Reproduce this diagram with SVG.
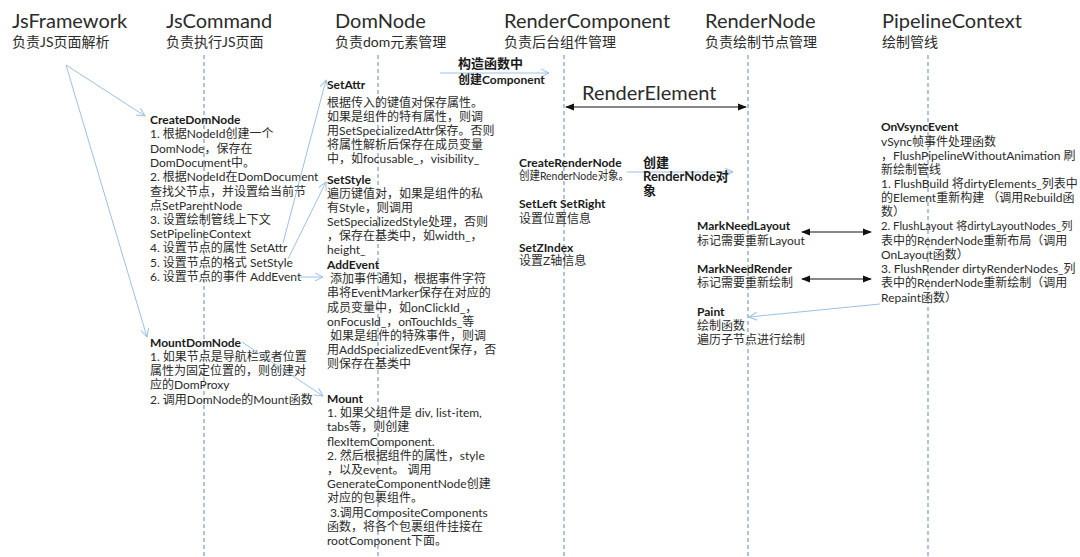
<svg xmlns="http://www.w3.org/2000/svg" width="1080" height="557" viewBox="0 0 1080 557">
<style>
text{font-family:Lato,"Noto Sans CJK SC",sans-serif;fill:#2b2b2b}
.t{font-size:20px}
.s{font-size:14px}
.b{font-size:12px}
.bn{font-size:11.3px}
.h{font-size:12px;font-weight:700;fill:#1a1a1a}
.hb{font-size:13px;font-weight:700;fill:#1a1a1a}
.life{stroke:#7f9cbc;stroke-width:1.2;stroke-dasharray:4 3;fill:none}
.la{stroke:#9cc0e2;stroke-width:1;fill:none;marker-end:url(#open)}
.da{stroke:#111;stroke-width:1.2;fill:none;marker-start:url(#fs);marker-end:url(#fe)}
</style>
<defs>
<marker id="open" viewBox="0 0 10 10" refX="9" refY="5" markerWidth="10" markerHeight="10" markerUnits="userSpaceOnUse" orient="auto"><path d="M1,1 L9,5 L1,9" fill="none" stroke="#9cc0e2" stroke-width="1"/></marker>
<marker id="fe" viewBox="0 0 10 10" refX="9" refY="5" markerWidth="9" markerHeight="9" markerUnits="userSpaceOnUse" orient="auto"><path d="M0,1 L10,5 L0,9 Z" fill="#111"/></marker>
<marker id="fs" viewBox="0 0 10 10" refX="1" refY="5" markerWidth="9" markerHeight="9" markerUnits="userSpaceOnUse" orient="auto"><path d="M10,1 L0,5 L10,9 Z" fill="#111"/></marker>
</defs>
<rect width="1080" height="557" fill="#fff"/>

<g id="JsFramework">
<text class="t" x="12" y="28">JsFramework</text>
<text class="s" x="12" y="47">负责JS页面解析</text>
</g>
<g id="JsCommand">
<line class="life" x1="204" y1="55" x2="204" y2="557"/>
<text class="t" x="166" y="28">JsCommand</text>
<text class="s" x="166" y="47">负责执行JS页面</text>
</g>
<g id="DomNode">
<line class="life" x1="378" y1="55" x2="378" y2="557"/>
<text class="t" x="335" y="28">DomNode</text>
<text class="s" x="335" y="47">负责dom元素管理</text>
</g>
<g id="RenderComponent">
<line class="life" x1="564" y1="55" x2="564" y2="557"/>
<text class="t" x="504" y="28">RenderComponent</text>
<text class="s" x="504" y="47">负责后台组件管理</text>
</g>
<g id="RenderNode">
<line class="life" x1="748" y1="55" x2="748" y2="557"/>
<text class="t" x="705" y="28">RenderNode</text>
<text class="s" x="705" y="47">负责绘制节点管理</text>
</g>
<g id="PipelineContext">
<line class="life" x1="928" y1="55" x2="928" y2="557"/>
<text class="t" x="882" y="28">PipelineContext</text>
<text class="s" x="882" y="47">绘制管线</text>
</g>

<g id="CreateDomNode">
<text class="h" x="150" y="124">CreateDomNode</text>
<text class="b" x="150" y="138">1. 根据NodeId创建一个</text>
<text class="b" x="150" y="153">DomNode，保存在</text>
<text class="b" x="150" y="167">DomDocument中。</text>
<text class="b" x="150" y="181">2. 根据NodeId在DomDocument</text>
<text class="b" x="150" y="196">查找父节点，并设置给当前节</text>
<text class="b" x="150" y="210">点SetParentNode</text>
<text class="b" x="150" y="224">3. 设置绘制管线上下文</text>
<text class="b" x="150" y="238">SetPipelineContext</text>
<text class="b" x="150" y="252">4. 设置节点的属性 SetAttr</text>
<text class="b" x="150" y="267">5. 设置节点的格式 SetStyle</text>
<text class="b" x="150" y="281">6. 设置节点的事件 AddEvent</text>
</g>
<g id="MountDomNode">
<text class="h" x="150" y="347">MountDomNode</text>
<text class="b" x="150" y="361">1. 如果节点是导航栏或者位置</text>
<text class="b" x="150" y="375">属性为固定位置的，则创建对</text>
<text class="b" x="150" y="389">应的DomProxy</text>
<text class="b" x="150" y="404">2. 调用DomNode的Mount函数</text>
</g>

<g id="SetAttr">
<text class="h" x="327" y="89">SetAttr</text>
<text class="b" x="327" y="107">根据传入的键值对保存属性。</text>
<text class="b" x="327" y="121">如果是组件的特有属性，则调</text>
<text class="b" x="327" y="135">用SetSpecializedAttr保存。否则</text>
<text class="b" x="327" y="149">将属性解析后保存在成员变量</text>
<text class="b" x="327" y="163">中，如focusable_，visibility_</text>
</g>
<g id="SetStyle">
<text class="h" x="327" y="184">SetStyle</text>
<text class="b" x="327" y="198">遍历键值对，如果是组件的私</text>
<text class="b" x="327" y="212">有Style，则调用</text>
<text class="b" x="327" y="226">SetSpecializedStyle处理，否则</text>
<text class="b" x="327" y="240">，保存在基类中，如width_，</text>
<text class="b" x="327" y="254">height_</text>
</g>
<g id="AddEvent">
<text class="h" x="327" y="269">AddEvent</text>
<text class="b" x="330" y="283">添加事件通知，根据事件字符</text>
<text class="b" x="327" y="297">串将EventMarker保存在对应的</text>
<text class="b" x="327" y="312">成员变量中，如onClickId_，</text>
<text class="b" x="327" y="326">onFocusId_，onTouchIds_等</text>
<text class="b" x="330" y="340">如果是组件的特殊事件，则调</text>
<text class="b" x="327" y="354">用AddSpecializedEvent保存，否</text>
<text class="b" x="327" y="368">则保存在基类中</text>
</g>
<g id="Mount">
<text class="h" x="327" y="403">Mount</text>
<text class="b" x="327" y="417">1. 如果父组件是 div, list-item,</text>
<text class="b" x="327" y="431">tabs等，则创建</text>
<text class="b" x="327" y="446">flexItemComponent.</text>
<text class="b" x="327" y="460">2. 然后根据组件的属性，style</text>
<text class="b" x="327" y="474">，以及event。 调用</text>
<text class="b" x="327" y="488">GenerateComponentNode创建</text>
<text class="b" x="327" y="502">对应的包裹组件。</text>
<text class="b" x="330" y="517">3.调用CompositeComponents</text>
<text class="b" x="327" y="531">函数，将各个包裹组件挂接在</text>
<text class="b" x="327" y="545">rootComponent下面。</text>
</g>

<g id="RenderComponentItems">
<text class="h" x="519" y="167">CreateRenderNode</text>
<text class="b" x="519" y="180" textLength="110" lengthAdjust="spacingAndGlyphs">创建RenderNode对象。</text>
<text class="h" x="519" y="208">SetLeft SetRight</text>
<text class="b" x="519" y="223">设置位置信息</text>
<text class="h" x="519" y="252">SetZIndex</text>
<text class="b" x="519" y="265">设置Z轴信息</text>
</g>

<g id="RenderNodeItems">
<text class="h" x="697" y="230">MarkNeedLayout</text>
<text class="b" x="697" y="245">标记需要重新Layout</text>
<text class="h" x="697" y="273">MarkNeedRender</text>
<text class="b" x="697" y="287">标记需要重新绘制</text>
<text class="h" x="697" y="316">Paint</text>
<text class="b" x="697" y="330">绘制函数</text>
<text class="b" x="697" y="344">遍历子节点进行绘制</text>
</g>

<g id="OnVsyncEvent">
<text class="h" x="881" y="131">OnVsyncEvent</text>
<text class="b" x="881" y="146">vSync帧事件处理函数</text>
<text class="b" x="881" y="160">，FlushPipelineWithoutAnimation 刷</text>
<text class="b" x="881" y="174">新绘制管线</text>
<text class="b" x="881" y="188">1. FlushBuild 将dirtyElements_列表中</text>
<text class="b" x="881" y="202">的Element重新构建 （调用Rebuild函</text>
<text class="b" x="881" y="216">数）</text>
<text class="bn" x="881" y="230">2. FlushLayout 将dirtyLayoutNodes_列</text>
<text class="b" x="881" y="245">表中的RenderNode重新布局（调用</text>
<text class="b" x="881" y="259">OnLayout函数）</text>
<text class="b" x="881" y="273">3. FlushRender dirtyRenderNodes_列</text>
<text class="b" x="881" y="287">表中的RenderNode重新绘制（调用</text>
<text class="b" x="881" y="302">Repaint函数）</text>
</g>

<g id="connectors">
<path class="la" d="M66,65 L145,116"/>
<path class="la" d="M66,65 L147,337"/>
<path class="la" d="M283,243 L326,80"/>
<path class="la" d="M288,259 L326,182"/>
<path class="la" d="M295,277 L323,277"/>
<path class="la" d="M242,342 L323,396"/>
<path class="la" d="M440,73 L549,73"/>
<path class="la" d="M627,172 L733,172"/>
<path class="la" d="M880,304 L749,317"/>
<path class="da" d="M566,107 L746,107"/>
<path class="da" d="M802,232 L871,232"/>
<path class="da" d="M802,279 L871,279"/>
</g>

<g id="labels">
<text class="hb" x="458" y="68">构造函数中</text>
<text class="h" x="458" y="84">创建Component</text>
<text class="t" x="582" y="100">RenderElement</text>
<text class="hb" x="643" y="167">创建</text>
<text class="hb" x="643" y="181">RenderNode对</text>
<text class="hb" x="643" y="195">象</text>
</g>
</svg>
